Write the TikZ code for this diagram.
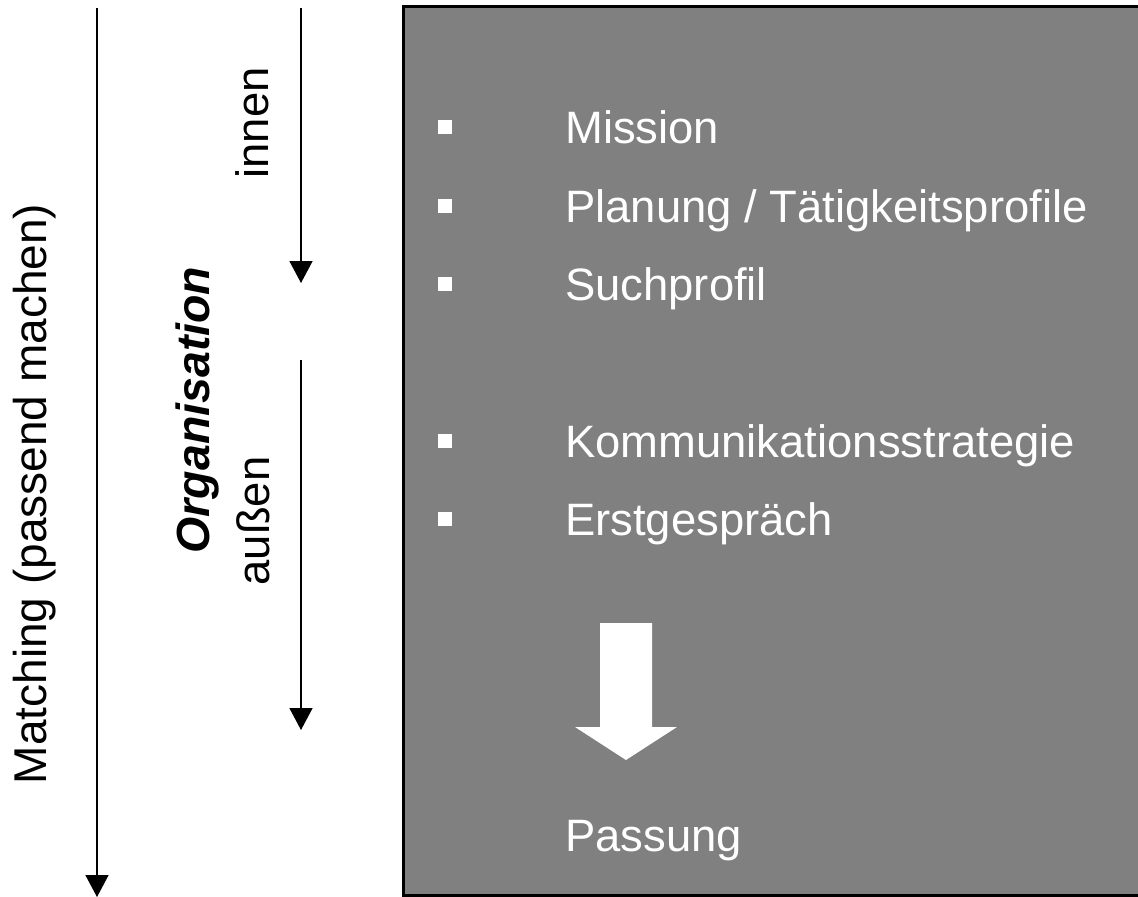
\documentclass[tikz,border=0pt]{standalone}
\usepackage{fontspec}
\setmainfont{Liberation Sans}
\usetikzlibrary{arrows.meta}
\definecolor{panelgray}{RGB}{128,128,128}
\tikzset{
  flow/.style={line width=1.6pt, -{Triangle[width=23pt,length=22pt]}},
  bigfont/.style={font=\fontsize{45.4}{54}\selectfont},
  sidelabel/.style={bigfont, rotate=90, anchor=base, inner sep=0pt},
  rowlabel/.style={bigfont, text=white, anchor=base west, inner sep=0pt},
  bullet/.style={fill=white, minimum size=14pt, inner sep=0pt, draw=none},
}
\begin{document}
\begin{tikzpicture}[x=1pt, y=-1pt]
\useasboundingbox (0,0) rectangle (1138,897);

% grey panel (runs off the right edge)
\fill[black] (402,5) rectangle (1145,897);
\fill[panelgray] (405,8) rectangle (1145,894);

% vertical direction arrows
\coordinate (m0) at (97,8);
\coordinate (m1) at (97,897);
\coordinate (i0) at (301,8);
\coordinate (i1) at (301,283);
\coordinate (a0) at (301,360);
\coordinate (a1) at (301,730);
\draw[flow] (m0) -- (m1);
\draw[flow] (i0) -- (i1);
\draw[flow] (a0) -- (a1);

% rotated labels
\node[sidelabel, font=\fontsize{46}{54}\selectfont] (match) at (46,494) {Matching (passend machen)};
\node[sidelabel] (innen) at (268,123) {innen};
\node[sidelabel, font=\fontsize{46.5}{54}\selectfont\bfseries\itshape] (org) at (209,410) {Organisation};
\node[sidelabel] (aussen) at (269,521) {außen};

% bullet list
\node[bullet] (b1) at (445,127) {};
\node[bullet] (b2) at (445,206) {};
\node[bullet] (b3) at (445,284) {};
\node[bullet] (b4) at (445,441) {};
\node[bullet] (b5) at (445,519) {};
\node[rowlabel] (t1) at (565,143) {Mission};
\node[rowlabel] (t2) at (565,222) {Planung / Tätigkeitsprofile};
\node[rowlabel] (t3) at (565,300) {Suchprofil};
\node[rowlabel] (t4) at (565,457) {Kommunikationsstrategie};
\node[rowlabel] (t5) at (565,535) {Erstgespräch};

% block arrow leading to the result
\fill[white] (600,623) -- (652,623) -- (652,727) -- (677,727) -- (626,760) -- (575,727) -- (600,727) -- cycle;
\node[rowlabel] (res) at (565,851) {Passung};
\end{tikzpicture}
\end{document}
